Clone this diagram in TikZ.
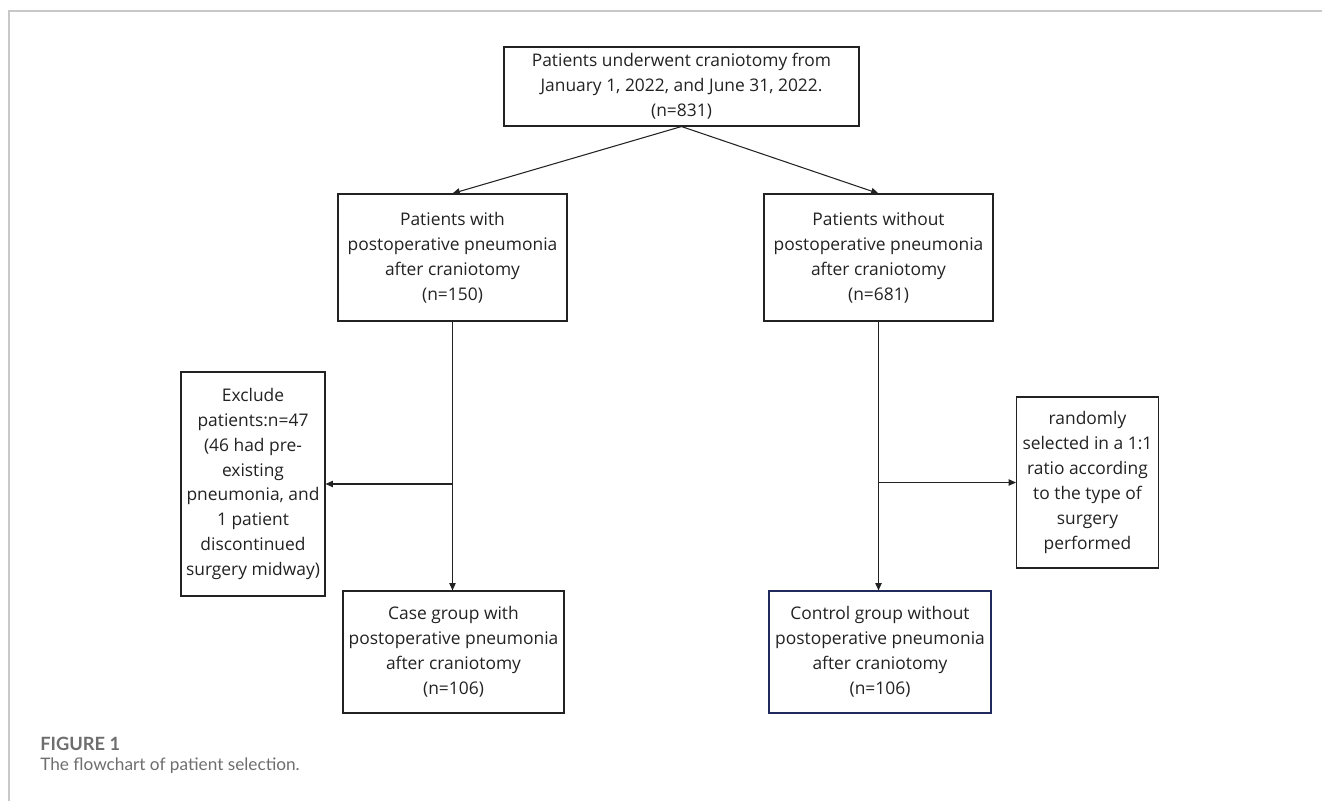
\documentclass[tikz,border=0pt]{standalone}
\usepackage{fontspec}
\setmainfont{Open Sans}
\newfontfamily\capfont{Lato}
\usepackage{tikz}
\usetikzlibrary{arrows.meta, positioning, calc}
\definecolor{ink}{HTML}{222222}
\definecolor{frame}{HTML}{C8C8C8}
\definecolor{navy}{HTML}{1F2A5C}
\definecolor{capgray}{HTML}{6E6E6E}
\tikzset{
  box/.style={rectangle, draw=ink, line width=0.6pt, align=center, text=ink,
    font=\fontsize{9.9pt}{14.2pt}\selectfont, inner sep=0pt},
  arr/.style={-{Triangle[length=4.2pt, width=3.6pt]}, line width=0.6pt, ink},
}

\begin{document}
\begin{tikzpicture}[x=0.02cm, y=-0.02cm]
\useasboundingbox (0,0) rectangle (1322,801);
% ---- page frame ----
\draw[frame, line width=0.85pt] (9,801) -- (9,11) -- (1322,11);
% ---- boxes ----
\node[box, minimum width=355*0.02cm, minimum height=79*0.02cm] (all) at (681.5,86.5)
  {Patients underwent craniotomy from\\ January 1, 2022, and June 31, 2022.\\ (n=831)};
\node[box, minimum width=229*0.02cm, minimum height=127*0.02cm] (withp) at (452.5,257.5)
  {Patients with\\ postoperative pneumonia\\ after craniotomy\\ (n=150)};
\node[box, minimum width=229*0.02cm, minimum height=127*0.02cm] (withoutp) at (878.5,257.5)
  {Patients without\\ postoperative pneumonia\\ after craniotomy\\ (n=681)};
\node[box, minimum width=144*0.02cm, minimum height=224*0.02cm] (exclude) at (253,484)
  {Exclude\\ patients:n=47\\ (46 had pre-\\ existing\\ pneumonia, and\\ 1 patient\\ discontinued\\ surgery midway)};
\node[box, anchor=west, inner xsep=6*0.02cm, minimum height=171*0.02cm] (random) at (1016,482.5)
  {randomly\\ selected in a 1:1\\ ratio according\\ to the type of\\ surgery\\ performed};
\node[box, minimum width=221*0.02cm, minimum height=122*0.02cm] (casegrp) at (453.5,652)
  {Case group with\\ postoperative pneumonia\\ after craniotomy\\ (n=106)};
\node[box, draw=navy, minimum width=222*0.02cm, minimum height=122*0.02cm] (ctrlgrp) at (880,652)
  {Control group without\\ postoperative pneumonia\\ after craniotomy\\ (n=106)};
% ---- connectors ----
\draw[arr] (all.south) -- (withp.north);
\draw[arr] (all.south) -- (withoutp.north);
\draw[arr] (withp.south) -- (withp.south |- casegrp.north);
\draw[arr] (withoutp.south) -- (withoutp.south |- ctrlgrp.north);
\coordinate (lsplit) at (withp.south |- exclude.east);
\coordinate (rsplit) at (withoutp.south |- random.west);
\draw[arr] (lsplit) -- (exclude.east);
\draw[arr] (rsplit) -- (random.west);
% ---- caption ----
\node[anchor=west, text=capgray, font=\capfont\bfseries\fontsize{10.4pt}{12pt}\selectfont, inner sep=0pt] (fig) at (40,744) {FIGURE 1};
\node[anchor=west, text=capgray, font=\capfont\fontsize{9.8pt}{12pt}\selectfont, inner sep=0pt] (cap) at (40,766) {The flowchart of patient selection.};
\end{tikzpicture}
\end{document}
